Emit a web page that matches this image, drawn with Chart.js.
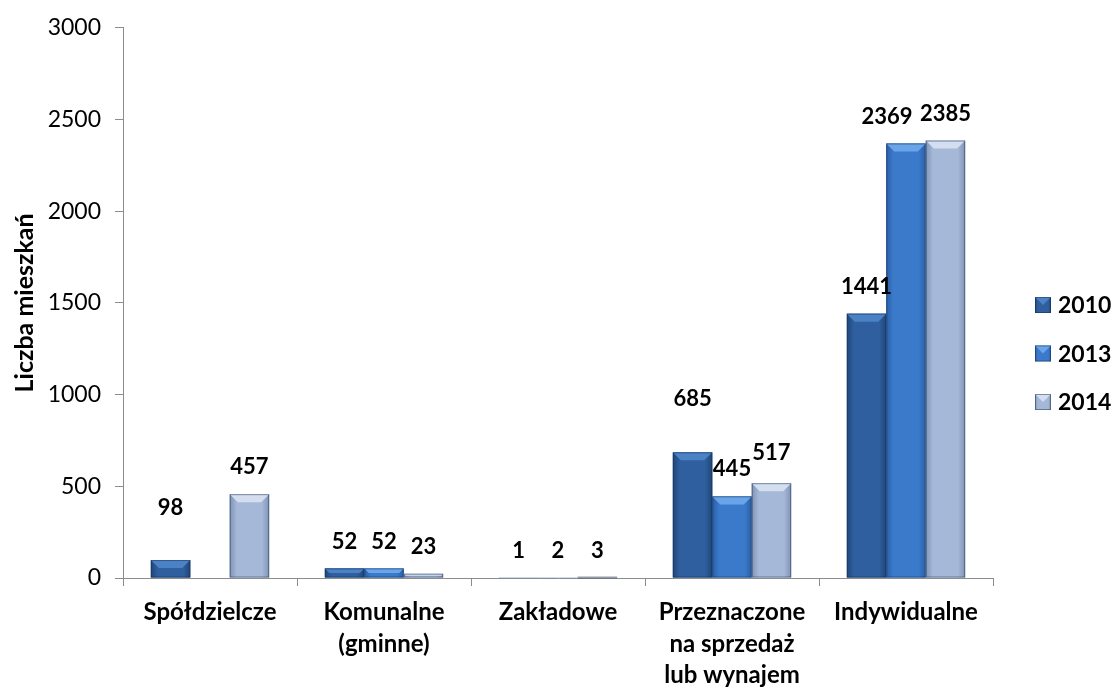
<!DOCTYPE html>
<html>
<head>
<meta charset="utf-8">
<script src="https://cdn.jsdelivr.net/npm/chart.js@4"></script>
<style>
  html, body { margin: 0; padding: 0; background: #fff; }
  #wrap { width: 1113px; height: 689px; }
</style>
</head>
<body>
<div id="wrap"><canvas id="chart"></canvas></div>
<script>
const categories = [
  "Spółdzielcze",
  ["Komunalne", "(gminne)"],
  "Zakładowe",
  ["Przeznaczone", "na sprzedaż", "lub wynajem"],
  "Indywidualne"
];
const years = ["2010", "2013", "2014"];
const values2010 = [98, 52, 1, 685, 1441];
const values2013 = [null, 52, 2, 445, 2369];
const values2014 = [457, 23, 3, 517, 2385];
const yTicks = [0, 500, 1000, 1500, 2000, 2500, 3000];

const FONT = "Lato, 'Open Sans', sans-serif";

// base, edge, top-bevel colours per series
const looks = [
  { base: "#2f5f9f", edge: "#1f4778", top: "#4b82c6" },
  { base: "#3b7acb", edge: "#2a5fa6", top: "#6aa5ea" },
  { base: "#a6b8d7", edge: "#7f93b6", top: "#d3def0" }
];

// labels that were moved by hand in the original (dataset-index -> dx, dy)
const labelNudge = { "0-0": [0, -25], "0-3": [0, -26], "1-4": [-19, 0], "2-3": [0, -3] };

function paintBar(ctx, look, l, t, w, h) {
  const r = l + w;
  const g = ctx.createLinearGradient(l, 0, r, 0);
  g.addColorStop(0, look.edge);
  g.addColorStop(0.18, look.base);
  g.addColorStop(0.82, look.base);
  g.addColorStop(1, look.edge);
  ctx.fillStyle = g;
  ctx.fillRect(l, t, w, h);
  const bv = Math.min(8, h / 2);
  ctx.fillStyle = look.top;
  ctx.beginPath();
  ctx.moveTo(l, t);
  ctx.lineTo(r, t);
  ctx.lineTo(r - bv, t + bv);
  ctx.lineTo(l + bv, t + bv);
  ctx.closePath();
  ctx.fill();
  ctx.strokeStyle = "rgba(20,40,70,0.45)";
  ctx.lineWidth = 1;
  ctx.strokeRect(l + 0.5, t + 0.5, w - 1, h - 1);
}

// simple bevel painted over each bar
const bevel = {
  id: "bevel",
  afterDatasetsDraw(chart) {
    const ctx = chart.ctx;
    chart.data.datasets.forEach((ds, di) => {
      chart.getDatasetMeta(di).data.forEach((bar, i) => {
        if (ds.data[i] == null) return;
        const h = bar.base - bar.y;
        if (h <= 0) return;
        ctx.save();
        paintBar(ctx, looks[di], bar.x - bar.width / 2, bar.y, bar.width, h);
        ctx.restore();
      });
    });
  }
};

const valueLabels = {
  id: "valueLabels",
  afterDatasetsDraw(chart) {
    const ctx = chart.ctx;
    ctx.save();
    ctx.font = "bold 22px " + FONT;
    ctx.fillStyle = "#000";
    ctx.textAlign = "center";
    ctx.textBaseline = "middle";
    chart.data.datasets.forEach((ds, di) => {
      chart.getDatasetMeta(di).data.forEach((bar, i) => {
        const v = ds.data[i];
        if (v == null) return;
        const n = labelNudge[di + "-" + i] || [0, 0];
        ctx.fillText(String(v), bar.x + n[0], Math.min(bar.y, bar.base) - 27 + n[1]);
      });
    });
    ctx.restore();
  }
};

// legend on the right, drawn by hand
const sideLegend = {
  id: "sideLegend",
  afterDraw(chart) {
    const ctx = chart.ctx;
    const x = chart.chartArea.right + 42;
    const y0 = 305, step = 48.5;
    ctx.save();
    ctx.font = "bold 23px " + FONT;
    ctx.textBaseline = "middle";
    years.forEach((yr, i) => {
      const cy = y0 + i * step;
      paintBar(ctx, looks[i], x, cy - 8, 16, 16);
      ctx.fillStyle = "#000";
      ctx.fillText(yr, x + 23, cy + 1);
    });
    ctx.restore();
  }
};

new Chart(document.getElementById("chart"), {
  type: "bar",
  data: {
    labels: categories,
    datasets: [
      { label: years[0], data: values2010, backgroundColor: looks[0].base },
      { label: years[1], data: values2013, backgroundColor: looks[1].base },
      { label: years[2], data: values2014, backgroundColor: looks[2].base }
    ]
  },
  options: {
    responsive: true,
    maintainAspectRatio: false,
    animation: false,
    layout: { padding: { left: 10, top: 16, right: 120, bottom: 0 } },
    datasets: {
      bar: { categoryPercentage: 0.68, barPercentage: 1.0 }
    },
    plugins: {
      legend: { display: false },
      tooltip: { enabled: false }
    },
    scales: {
      y: {
        min: 0,
        max: 3000,
        afterBuildTicks(scale) {
          scale.ticks = yTicks.map(v => ({ value: v }));
        },
        afterFit(scale) { scale.width = 113; },
        border: { color: "#8c8c8c" },
        grid: { drawOnChartArea: false, drawTicks: true, tickLength: 8, color: "#8c8c8c" },
        ticks: {
          color: "#000",
          padding: 14,
          font: { family: FONT, size: 23 },
          callback: v => String(v)
        },
        title: {
          display: true,
          text: "Liczba mieszkań",
          color: "#000",
          font: { family: FONT, size: 25, weight: "bold" },
          padding: { top: 0, bottom: 0 }
        }
      },
      x: {
        afterFit(scale) { scale.height = 111; },
        border: { color: "#8c8c8c" },
        grid: { offset: true, drawOnChartArea: false, drawTicks: true, tickLength: 8, color: "#8c8c8c" },
        ticks: {
          color: "#000",
          padding: 11,
          maxRotation: 0,
          autoSkip: false,
          font: { family: FONT, size: 24, weight: "bold", lineHeight: 1.3 }
        }
      }
    }
  },
  plugins: [bevel, valueLabels, sideLegend]
});
</script>
</body>
</html>
